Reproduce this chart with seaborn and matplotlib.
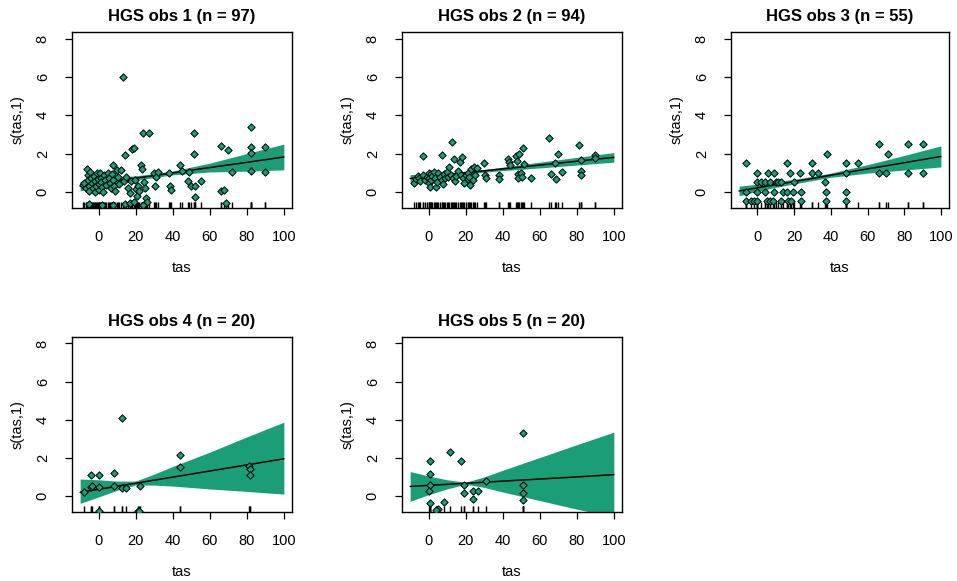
import matplotlib
matplotlib.use('Agg')
import matplotlib.pyplot as plt
import pandas as pd
import seaborn as sns

sns.set_theme(style='ticks')
plt.rcParams['font.family'] = ['Liberation Sans', 'DejaVu Sans']
plt.rcParams['text.color'] = 'black'
plt.rcParams['axes.labelcolor'] = 'black'

GREEN = '#1b9e77'

titles = ['HGS obs 1 (n = 97)', 'HGS obs 2 (n = 94)', 'HGS obs 3 (n = 55)',
          'HGS obs 4 (n = 20)', 'HGS obs 5 (n = 20)']
x_ticks = [0, 20, 40, 60, 80, 100]
y_ticks = [0, 2, 4, 6, 8]

band_x = [-10, 0, 10, 20, 30, 40, 60, 80, 100]

p1_fit = [0.30, 0.44, 0.58, 0.72, 0.85, 0.99, 1.27, 1.54, 1.82]
p1_hi = [0.55, 0.64, 0.75, 0.84, 0.95, 1.09, 1.50, 2.00, 2.49]
p1_lo = [0.05, 0.24, 0.41, 0.60, 0.75, 0.89, 1.04, 1.08, 1.15]

p2_fit = [0.70, 0.80, 0.90, 1.00, 1.10, 1.20, 1.40, 1.60, 1.80]
p2_hi = [0.90, 0.95, 1.00, 1.08, 1.17, 1.29, 1.55, 1.80, 2.05]
p2_lo = [0.50, 0.65, 0.80, 0.92, 1.03, 1.11, 1.25, 1.40, 1.55]

p3_fit = [0.05, 0.21, 0.38, 0.54, 0.70, 0.87, 1.20, 1.52, 1.85]
p3_hi = [0.30, 0.40, 0.52, 0.66, 0.81, 0.98, 1.42, 1.90, 2.40]
p3_lo = [-0.20, 0.02, 0.24, 0.42, 0.59, 0.76, 0.98, 1.14, 1.30]

p4_fit = [0.19, 0.35, 0.51, 0.67, 0.83, 0.99, 1.31, 1.63, 1.95]
p4_hi = [0.89, 0.85, 0.78, 0.78, 1.15, 1.55, 2.30, 3.10, 3.87]
p4_lo = [-0.39, -0.05, 0.30, 0.58, 0.57, 0.52, 0.37, 0.24, 0.10]

p5_fit = [0.50, 0.56, 0.61, 0.67, 0.72, 0.78, 0.89, 1.00, 1.12]
p5_hi = [1.28, 1.05, 0.85, 0.72, 1.00, 1.35, 2.02, 2.69, 3.35]
p5_lo = [-0.28, 0.07, 0.37, 0.62, 0.45, 0.21, -0.24, -0.69, -1.11]

# partial residuals
p1_x = [-8.5, -8, -7, -6.5, -6, -5.5, -5, -5, -4.5, -4, -3.5, -3, -2.5, -2, -2, -1.5, -1, -0.5, 0, 0,
        0.5, 1, 1.5, 2, 2.5, 3, 3.5, 4, 5, 5.5, 6, 6.5, 7, 7.5, 8, 8.5, 9, 10, 10.5, 11,
        12, 13, 13.5, 14, 15, 16, 17, 17.5, 18, 19, 19.5, 20, 20.5, 21, 22, 23, 23.5, 24, 24.5, 25,
        25.5, 26, 27, 30, 30.5, 31, 32, 38, 38.5, 39, 44, 45, 48, 49, 50, 51.5, 51.5, 52, 52, 55,
        66, 66, 67.5, 68.5, 70, 72, 82, 82, 82, 82, 90, 90, -5, 2, 8, 14, 17, 19, 24]
p1_y = [0.35, 0.45, 0.2, 1.2, 0.9, 0.6, 0.3, 0.05, 1.05, 0.7, 0.45, 0.2, 0.85, 0.55, 0.0, 0.3, 1.0, 0.65, 0.4, 0.1,
        1.0, 0.75, 0.5, 0.25, 0.0, 0.9, 0.6, 0.35, 1.0, 0.7, 0.45, 0.2, 0.95, 0.6, 1.4, 0.3, 0.05, 1.15, 0.8, 0.4,
        1.15, 6.0, 0.55, 1.9, 0.8, 0.2, -0.05, 0.55, 2.25, 2.3, 0.6, 0.15, -0.2, 0.3, 0.05, 1.4, 1.2, 3.05, 0.5, 0.2,
        -0.3, -0.55, 3.05, 1.0, 0.3, 0.8, 1.05, 1.0, 0.3, 0.1, 1.4, 1.1, 0.55, 1.05, 0.3, 3.05, 2.0, 0.3, -0.25, 0.55,
        2.37, 0.05, 0.1, -0.6, 2.2, 1.05, 3.4, 2.35, 2.05, 1.1, 2.35, 1.05, -0.65, -0.7, -0.7, -0.65, -0.6, -0.55, -0.7]

p2_x = [-8, -7, -6, -5, -4.5, -3, -3, -2, -1, 0, 0, 0, 0.5, 1, 1.5, 2, 3, 3.5, 4, 4.5,
        5, 6, 7, 7, 8, 8.5, 9, 10, 10.5, 11, 12, 12.5, 13, 13.5, 14, 15, 16, 17, 17.5, 18,
        18.5, 19, 20, 21, 21.5, 22, 22.5, 23, 24, 24.5, 25, 26, 30, 30.5, 31, 38, 38, 43, 43.5, 44,
        47, 47.5, 48, 48.5, 49, 50, 50.5, 51, 51.5, 55, 65, 66, 68, 69, 70, 72, 81, 82, 82, 82.5, 90, 90]
p2_y = [0.45, 0.65, 0.85, 0.7, 0.55, 1.85, 0.9, 0.6, 0.8, 1.0, 0.75, 0.45, 0.25, 0.95, 0.6, 0.85, 1.05, 0.7, 0.25, 0.5,
        1.0, 0.8, 1.9, 0.6, 0.4, 0.95, 0.7, 1.05, 0.8, 1.3, 0.9, 2.6, 0.75, 1.7, 0.55, 0.85, 1.1, 1.55, 0.9, 1.8,
        0.7, 0.45, 0.9, 0.65, 1.0, 0.8, 0.35, 1.2, 0.6, 1.3, 0.9, 1.25, 1.5, 0.9, 0.75, 0.9, 0.65, 1.7, 1.55, 1.4,
        1.85, 1.6, 0.95, 0.75, 2.0, 1.0, 0.8, 2.3, 1.45, 0.75, 2.8, 0.95, 1.5, 0.65, 2.0, 1.05, 2.45, 1.65, 1.1, 0.9, 1.95, 1.75]

p3_x = [66, 82, 90, 38, 71, -6, 16, 30, 48, 55,
        0, 6, 9, 18, 23, 30, 33, 48, 66, 70, 82, 90,
        0, 2, 4, 7, 10, 11, 13, 20, 37,
        -6, 0, 4, 9, 14, 16, 19.5, 24, 37.5, 48,
        -6, -3.5, -1.8, 0, 5, 6.7, 8.5, 13, 16.7, 18.5, 24, 37.5, 48.4]
p3_y = [2.5, 2.5, 2.5, 2.0, 2.0, 1.5, 1.5, 1.5, 1.5, 1.5,
        1.0, 1.0, 1.0, 1.0, 1.0, 1.0, 1.0, 1.0, 1.0, 1.0, 1.0, 1.0,
        0.5, 0.5, 0.5, 0.5, 0.5, 0.5, 0.5, 0.5, 0.5,
        0, 0, 0, 0, 0, 0, 0, 0, 0, 0,
        -0.5, -0.5, -0.5, -0.5, -0.5, -0.5, -0.5, -0.5, -0.5, -0.5, -0.5, -0.5, -0.5]

p4_x = [-7.8, -4.2, -4.2, -3.8, 0.2, 0.2, 8.5, 8.5, 12.5, 12.5, 15, 22.5, 43.7, 43.7, 81.4, 81.7, 81.7, 0.2, 21, 22]
p4_y = [0.19, 1.12, 0.45, 0.5, 1.12, 0.48, 1.19, 0.55, 4.1, 0.43, 0.43, 0.53, 2.16, 1.51, 1.55, 1.44, 1.1, -0.8, -0.8, -0.8]

p5_x = [0.5, 0.5, 0.5, 0, 0.5, 5, 8.1, 11.7, 17.6, 18.9, 18.9, 23.9, 26.6, 23.9, 31.1, 51, 51, 51, 51, 4]
p5_y = [1.82, 1.16, 0.6, 0.28, -0.38, -0.68, -0.33, 2.33, 1.82, 0.6, 0.14, 0.28, 0.28, -0.18, 0.8, 3.3, 0.6, 0.15, -0.2, -0.75]

panels = [
    (p1_x, p1_y, p1_fit, p1_lo, p1_hi),
    (p2_x, p2_y, p2_fit, p2_lo, p2_hi),
    (p3_x, p3_y, p3_fit, p3_lo, p3_hi),
    (p4_x, p4_y, p4_fit, p4_lo, p4_hi),
    (p5_x, p5_y, p5_fit, p5_lo, p5_hi),
]

# axes boxes in pixels: left, right, top, bottom
boxes = [(72, 292, 32, 208), (402, 622, 32, 208), (731, 949, 32, 208),
         (72, 292, 337, 512), (402, 622, 337, 512)]

W, H = 957, 581
fig = plt.figure(figsize=(W / 100, H / 100), dpi=100)

for i, (px, py, fit, lo, hi) in enumerate(panels):
    l, r, t, b = boxes[i]
    ax = fig.add_axes([l / W, 1 - b / H, (r - l) / W, (b - t) / H])
    pts = pd.DataFrame({'tas': px, 'res': py})
    band = pd.DataFrame({'tas': band_x, 'fit': fit, 'lo': lo, 'hi': hi})

    ax.fill_between(band['tas'], band['lo'], band['hi'], color=GREEN, lw=0, zorder=1)
    sns.lineplot(data=band, x='tas', y='fit', color='black', lw=1.1, estimator=None, ax=ax, zorder=2)
    sns.scatterplot(data=pts, x='tas', y='res', marker='D', s=14, color=GREEN,
                    edgecolor='black', linewidth=0.7, ax=ax, zorder=3)
    sns.rugplot(data=pts, x='tas', height=0.035, color='black', lw=0.8, ax=ax)

    ax.set_xlim(-14.4, 104.4)
    ax.set_ylim(-0.84, 8.34)
    ax.set_xticks(x_ticks)
    ax.set_yticks(y_ticks)
    ax.set_title(titles[i], fontsize=12, fontweight='bold', pad=8, color='black')
    ax.set_xlabel('tas', fontsize=10.5, labelpad=12)
    ax.set_ylabel('s(tas,1)', fontsize=10.5, labelpad=8)
    ax.tick_params(axis='both', direction='out', length=5, width=0.9, color='black',
                   labelsize=10.5, labelcolor='black')
    ax.tick_params(axis='x', pad=11)
    ax.tick_params(axis='y', pad=11, labelrotation=90)
    for lbl in ax.get_yticklabels():
        lbl.set_va('center')
    for sp in ax.spines.values():
        sp.set_visible(True)
        sp.set_color('black')
        sp.set_linewidth(1.0)

fig.savefig('out.png', dpi=100)
